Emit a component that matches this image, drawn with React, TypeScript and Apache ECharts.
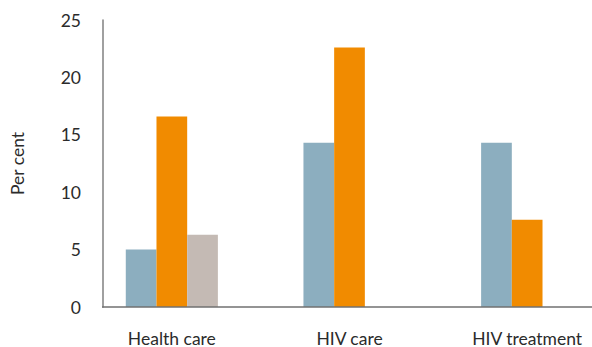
import React, { useEffect, useRef } from "react";
import * as echarts from "echarts";

const categories = ["Health care", "HIV care", "HIV treatment"];
const seriesA = [5.0, 14.3, 14.3];
const seriesB = [16.6, 22.6, 7.6];
const seriesC: (number | null)[] = [6.3, null, null];
const yTicks = { min: 0, max: 25, interval: 5 };

const colors = ["#8CAEBF", "#F18B00", "#C4BAB4"];
const font = "Lato, 'Noto Sans', sans-serif";
const txt = "#2b2b2b";

export default function App() {
  const ref = useRef<HTMLDivElement>(null);
  useEffect(() => {
    document.body.style.margin = "0";
    const chart = echarts.init(ref.current!, null, { renderer: "svg" });
    const mk = (name: string, data: (number | null)[], i: number) => ({
      name,
      type: "bar",
      data,
      barWidth: 30.7,
      barGap: "0%",
      itemStyle: { color: colors[i] },
    });
    chart.setOption({
      animation: false,
      grid: { left: 82, right: 0, top: 20, bottom: 40, containLabel: false },
      xAxis: {
        type: "category",
        data: categories,
        axisLine: { show: false },
        axisTick: { show: false },
        axisLabel: { color: txt, fontSize: 17.5, fontFamily: font, margin: 22 },
      },
      yAxis: {
        type: "value",
        min: yTicks.min,
        max: yTicks.max,
        interval: yTicks.interval,
        offset: -20,
        name: "Per cent",
        nameLocation: "middle",
        nameGap: 77,
        nameTextStyle: { color: txt, fontSize: 17.5, fontFamily: font },
        axisLine: { show: true, lineStyle: { color: "#808080", width: 1.5 } },
        axisTick: { show: false },
        splitLine: { show: false },
        axisLabel: { color: txt, fontSize: 17.5, fontFamily: font, margin: 22 },
      },
      graphic: [
        {
          type: "line",
          shape: { x1: 102, y1: 307, x2: 616, y2: 307 },
          style: { stroke: "#707070", lineWidth: 1.5 },
          z: 100,
        },
      ],
      series: [mk("A", seriesA, 0), mk("B", seriesB, 1), mk("C", seriesC, 2)],
    });
    return () => chart.dispose();
  }, []);
  return (
    <div style={{ width: 592, height: 347, overflow: "hidden", position: "relative" }}>
      <div ref={ref} style={{ width: 616, height: 347 }} />
    </div>
  );
}
